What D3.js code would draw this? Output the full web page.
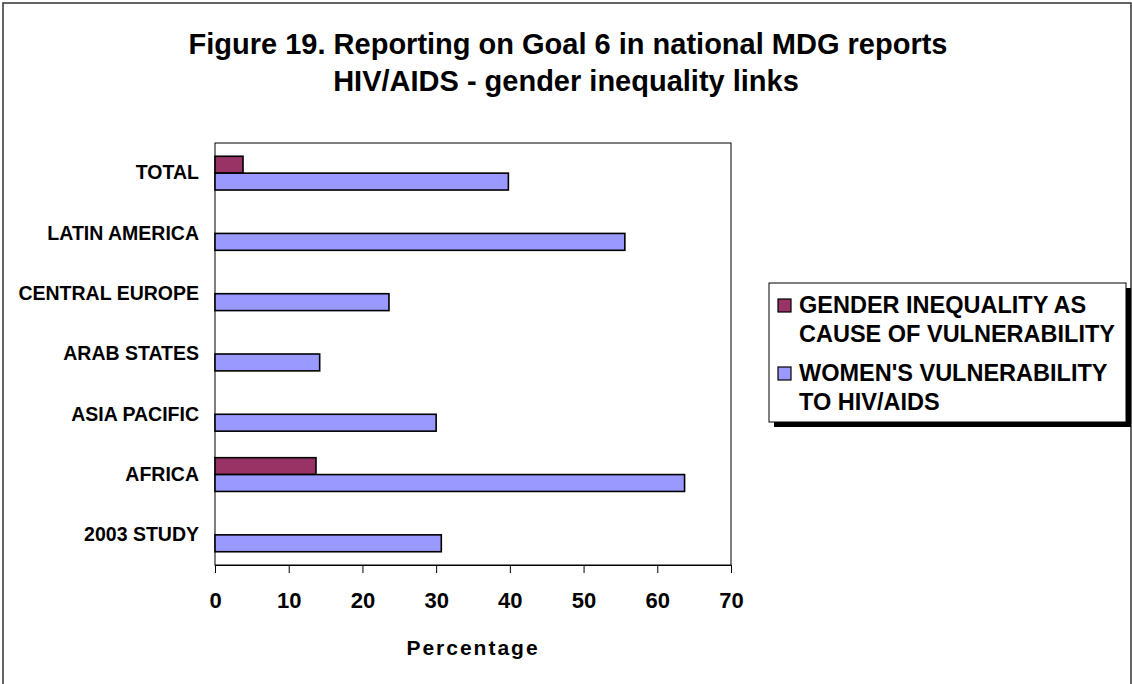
<!DOCTYPE html>
<html>
<head>
<meta charset="utf-8">
<script src="https://cdn.jsdelivr.net/npm/d3@7"></script>
<style>
  body { margin: 0; background: #fff; }
  svg { display: block; font-family: "Liberation Sans", Arial, sans-serif; font-weight: bold; }
</style>
</head>
<body>
<svg id="chart" width="1132" height="684"></svg>
<script>
var categories = ["TOTAL", "LATIN AMERICA", "CENTRAL EUROPE", "ARAB STATES", "ASIA PACIFIC", "AFRICA", "2003 STUDY"];
var seriesNames = ["GENDER INEQUALITY AS CAUSE OF VULNERABILITY", "WOMEN'S VULNERABILITY TO HIV/AIDS"];
var genderValues = [3.8, 0, 0, 0, 0, 13.7, 0];
var womenValues = [39.8, 55.6, 23.6, 14.2, 30.0, 63.7, 30.7];
var xTicks = [0, 10, 20, 30, 40, 50, 60, 70];
var legendLines = [["GENDER INEQUALITY AS", "CAUSE OF VULNERABILITY"], ["WOMEN'S VULNERABILITY", "TO HIV/AIDS"]];
var colors = ["#993366", "#9999ff"];

var svg = d3.select("#chart");

// outer chart border
svg.append("rect")
    .attr("x", 3).attr("y", 3)
    .attr("width", 1128).attr("height", 700)
    .attr("fill", "none")
    .attr("stroke", "#333")
    .attr("stroke-width", 1.5);

// title
var title = svg.append("text")
    .attr("text-anchor", "middle")
    .style("font-size", "29px");
title.append("tspan").attr("x", 568).attr("y", 54).text("Figure 19. Reporting on Goal 6 in national MDG reports");
title.append("tspan").attr("x", 566).attr("y", 91).text("HIV/AIDS - gender inequality links");

var plotLeft = 215, plotRight = 731, plotTop = 143, plotBottom = 565;

var x = d3.scaleLinear().domain([0, 70]).range([plotLeft, plotRight]);
var y0 = d3.scaleBand().domain(categories).range([plotTop, plotBottom]).paddingInner(0.44).paddingOuter(0.22);
var y1 = d3.scaleBand().domain([0, 1]).range([0, y0.bandwidth()]);

// plot frame
svg.append("rect")
    .attr("x", plotLeft).attr("y", plotTop)
    .attr("width", plotRight - plotLeft).attr("height", plotBottom - plotTop)
    .attr("fill", "#fff")
    .attr("stroke", "#000")
    .attr("stroke-width", 1);

var rows = categories.map(function(c, i) {
    return { cat: c, vals: [genderValues[i], womenValues[i]] };
});

var groups = svg.selectAll("g.row")
    .data(rows)
    .enter().append("g")
    .attr("class", "row")
    .attr("transform", function(d) { return "translate(0," + y0(d.cat) + ")"; });

groups.selectAll("rect")
    .data(function(d) { return d.vals.map(function(v, j) { return { v: v, j: j }; }).filter(function(e) { return e.v > 0; }); })
    .enter().append("rect")
    .attr("x", x(0))
    .attr("y", function(d) { return y1(d.j); })
    .attr("width", function(d) { return x(d.v) - x(0); })
    .attr("height", y1.bandwidth())
    .attr("fill", function(d) { return colors[d.j]; })
    .attr("stroke", "#000")
    .attr("stroke-width", 1.6);

// x axis
var xAxis = svg.append("g")
    .attr("transform", "translate(0," + plotBottom + ")")
    .call(d3.axisBottom(x).tickValues(xTicks).tickSize(8).tickPadding(19).tickSizeOuter(0));
xAxis.select(".domain").attr("stroke", "#000");
xAxis.selectAll("line").attr("stroke", "#000");
xAxis.selectAll("text")
    .attr("fill", "#000")
    .style("font-size", "22px")
    .style("font-family", "'Liberation Sans', Arial, sans-serif")
    .style("font-weight", "bold");

// y axis labels
var yAxis = svg.append("g")
    .attr("transform", "translate(" + plotLeft + ",0)")
    .call(d3.axisLeft(y0).tickSize(0).tickPadding(16));
yAxis.select(".domain").remove();
yAxis.selectAll("text")
    .attr("fill", "#000")
    .style("font-size", "19.5px")
    .style("font-family", "'Liberation Sans', Arial, sans-serif")
    .style("font-weight", "bold");

svg.append("text")
    .attr("x", (plotLeft + plotRight) / 2)
    .attr("y", 655)
    .attr("text-anchor", "middle")
    .style("font-size", "21px")
    .style("letter-spacing", "2px")
    .text("Percentage");

// legend
var lg = svg.append("g").attr("transform", "translate(769,283)");
lg.append("rect").attr("x", 5).attr("y", 5).attr("width", 357).attr("height", 139).attr("fill", "#000");
lg.append("rect").attr("x", 0).attr("y", 0).attr("width", 357).attr("height", 139)
    .attr("fill", "#fff").attr("stroke", "#000").attr("stroke-width", 1);

var items = lg.selectAll("g.item")
    .data(legendLines)
    .enter().append("g")
    .attr("class", "item")
    .attr("transform", function(d, i) { return "translate(0," + (i * 68) + ")"; });

items.append("rect")
    .attr("x", 9).attr("y", 16)
    .attr("width", 13).attr("height", 13)
    .attr("fill", function(d, i) { return colors[i]; })
    .attr("stroke", "#000")
    .attr("stroke-width", 1.2);

items.each(function(d) {
    var t = d3.select(this).append("text").style("font-size", "23.5px");
    d.forEach(function(line, k) {
        t.append("tspan").attr("x", 30).attr("y", 30 + k * 29).text(line);
    });
});
</script>
</body>
</html>
